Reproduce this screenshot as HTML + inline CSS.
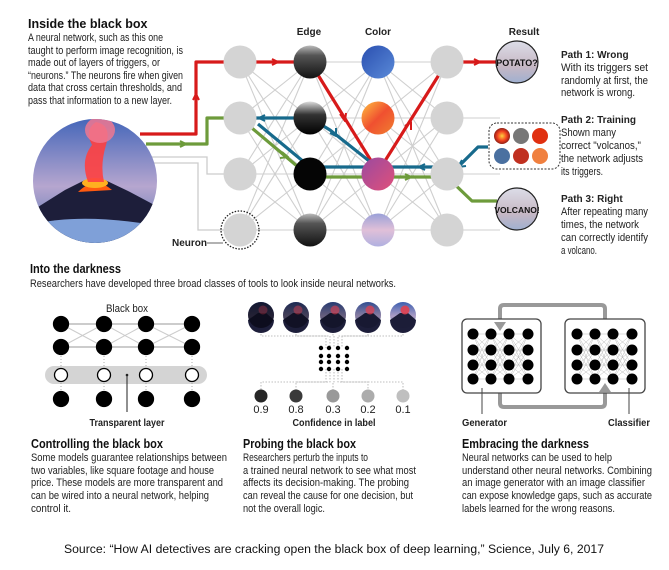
<!DOCTYPE html>
<html><head><meta charset="utf-8">
<style>
html,body{margin:0;padding:0;background:#fff;}
svg{display:block;font-family:"Liberation Sans",sans-serif;}
.h{font-weight:bold;font-size:12.5px;fill:#111;}
.t{font-size:11px;fill:#222;}
.lbl{font-weight:bold;font-size:10px;fill:#222;}
</style></head>
<body>
<svg id="fig" width="669" height="570" viewBox="0 0 669 570" xmlns="http://www.w3.org/2000/svg">
<defs>
<linearGradient id="sky" x1="0" y1="0" x2="0" y2="1">
<stop offset="0" stop-color="#3f63b8"/><stop offset="0.55" stop-color="#b6a6cf"/><stop offset="1" stop-color="#4a6fb0"/></linearGradient>
<linearGradient id="pale" x1="0" y1="0" x2="0" y2="1">
<stop offset="0" stop-color="#dcdde8"/><stop offset="0.6" stop-color="#c7b8c4"/><stop offset="1" stop-color="#9fb0d0"/></linearGradient>
<radialGradient id="lava" cx="0.5" cy="0.5" r="0.6"><stop offset="0" stop-color="#ffd040"/><stop offset="0.5" stop-color="#f04020"/><stop offset="1" stop-color="#601010"/></radialGradient>
<linearGradient id="gray1" x1="0" y1="0" x2="0" y2="1"><stop offset="0" stop-color="#bbb"/><stop offset="0.3" stop-color="#555"/><stop offset="1" stop-color="#111"/></linearGradient>
<linearGradient id="gray2" x1="0" y1="0" x2="0" y2="1"><stop offset="0" stop-color="#ddd"/><stop offset="0.4" stop-color="#333"/><stop offset="1" stop-color="#000"/></linearGradient>
<linearGradient id="cOrange" x1="0" y1="0" x2="1" y2="1"><stop offset="0" stop-color="#ffc040"/><stop offset="0.5" stop-color="#f05030"/><stop offset="1" stop-color="#f08030"/></linearGradient>
<linearGradient id="cBlue" x1="0" y1="0" x2="1" y2="1"><stop offset="0" stop-color="#2a4fb0"/><stop offset="1" stop-color="#5a8ad8"/></linearGradient>
<linearGradient id="cMag" x1="0" y1="0" x2="1" y2="1"><stop offset="0" stop-color="#9a4aa0"/><stop offset="1" stop-color="#e0507a"/></linearGradient>
<linearGradient id="cLav" x1="0" y1="0" x2="0" y2="1"><stop offset="0" stop-color="#9aa0d8"/><stop offset="0.5" stop-color="#e0c0d8"/><stop offset="1" stop-color="#b0b0e0"/></linearGradient>
<clipPath id="vclip"><circle cx="95" cy="181" r="62"/></clipPath>
</defs>

<text class="h" x="28" y="28" font-size="13">Inside the black box</text>
<g class="t">
<text x="28" y="41" textLength="135" lengthAdjust="spacingAndGlyphs">A neural network, such as this one</text>
<text x="28" y="54" textLength="155" lengthAdjust="spacingAndGlyphs">taught to perform image recognition, is</text>
<text x="28" y="66" textLength="132" lengthAdjust="spacingAndGlyphs">made out of layers of triggers, or</text>
<text x="28" y="79" textLength="155" lengthAdjust="spacingAndGlyphs">“neurons.” The neurons fire when given</text>
<text x="28" y="91" textLength="154" lengthAdjust="spacingAndGlyphs">data that cross certain thresholds, and</text>
<text x="28" y="104" textLength="144" lengthAdjust="spacingAndGlyphs">pass that information to a new layer.</text>
</g>
<text class="lbl" x="309" y="35" text-anchor="middle">Edge</text>
<text class="lbl" x="378" y="35" text-anchor="middle">Color</text>
<text class="lbl" x="524" y="35" text-anchor="middle">Result</text>

<g id="net"></g>

<g fill="none" stroke="#ccc" stroke-width="1.3">
<path d="M152,157 H207 V174 H240"/>
<path d="M150,163 H198 V230 H240"/>
</g>

<g fill="none" stroke="#d71a1a" stroke-width="3.2" stroke-linejoin="round">
<path d="M140,134 H196 V62 H240 H310 L378,172 L447,62 H497"/>
<path d="M193,100 l3,-6 l3,6 M272,59 l6,3 l-6,3 M340,114 l5,7 l1,-8 M405,126 l6,-4 l0,8 M474,59 l6,3 l-6,3" stroke-width="2"/>
</g>
<g fill="none" stroke="#6d9b3b" stroke-width="3.2" stroke-linejoin="round">
<path d="M146,144 H207 V118 H240 L310,177 H447 L472,201 H497"/>
<path d="M180,141 l6,3 l-6,3 M282,152 l6,5 l-8,1 M405,174 l6,3 l-6,3" stroke-width="2"/>
</g>
<g fill="none" stroke="#176a8c" stroke-width="3.2" stroke-linejoin="round">
<path d="M488,147 H478 L458,167 H447 H310 L258,124"/>
<path d="M378,168 L330,130 L310,118 H256"/>
<path d="M265,115 l-6,3 l6,3 M336,128 l0,8 l-6,-3 M425,164 l-6,3 l6,3 M462,160 l-4,7 l8,-1" stroke-width="2"/>
</g>

<g id="nodes"></g>

<circle cx="240" cy="230" r="19" fill="none" stroke="#222" stroke-width="1.3" stroke-dasharray="1.5,1.5"/>
<line x1="207" y1="243" x2="223" y2="243" stroke="#666" stroke-width="1"/>
<text class="lbl" x="172" y="246" font-size="10">Neuron</text>

<g clip-path="url(#vclip)">
<rect x="30" y="115" width="130" height="130" fill="url(#sky)"/>
<path d="M30,212 L65,190 L85,180 L105,180 L130,192 L160,208 V245 H30Z" fill="#1d1e3a"/>
<path d="M30,225 Q80,212 160,226 V245 H30Z" fill="#7fa0d8"/>
<path d="M78,192 Q95,175 112,190 Z" fill="#ff5a10"/>
<ellipse cx="95" cy="183" rx="13" ry="5" fill="#ffb020"/>
<path d="M88,182 Q80,160 92,145 Q84,130 96,122 Q112,125 106,145 Q100,165 104,182Z" fill="#ff4040" opacity="0.9"/>
<ellipse cx="100" cy="130" rx="15" ry="13" fill="#f07890" opacity="0.85"/>
</g>

<g>
<circle cx="517" cy="62" r="21" fill="url(#pale)" stroke="#222" stroke-width="1.2"/>
<text x="517" y="66" font-size="9" font-weight="bold" text-anchor="middle" fill="#111">POTATO?</text>
</g>
<g>
<circle cx="517" cy="209" r="21" fill="url(#pale)" stroke="#222" stroke-width="1.2"/>
<text x="517" y="213" font-size="8.5" font-weight="bold" text-anchor="middle" fill="#111">VOLCANO!</text>
</g>
<g>
<rect x="489" y="123" width="71" height="46" rx="8" fill="#fff" stroke="#333" stroke-width="1" stroke-dasharray="2,1.5"/>
<circle cx="502" cy="136" r="8" fill="url(#lava)"/>
<circle cx="521" cy="136" r="8" fill="#777"/>
<circle cx="540" cy="136" r="8" fill="#e03010"/>
<circle cx="502" cy="156" r="8" fill="#4a70a0"/>
<circle cx="521" cy="156" r="8" fill="#c03020"/>
<circle cx="540" cy="156" r="8" fill="#f08040"/>
</g>

<g>
<text class="lbl" x="561" y="58" font-size="10">Path 1: Wrong</text>
<text class="t" x="561" y="71" textLength="87" lengthAdjust="spacingAndGlyphs">With its triggers set</text>
<text class="t" x="561" y="84" textLength="87" lengthAdjust="spacingAndGlyphs">randomly at first, the</text>
<text class="t" x="561" y="96" textLength="74" lengthAdjust="spacingAndGlyphs">network is wrong.</text>
<text class="lbl" x="561" y="123" font-size="10">Path 2: Training</text>
<text class="t" x="561" y="136" textLength="55" lengthAdjust="spacingAndGlyphs">Shown many</text>
<text class="t" x="561" y="149" textLength="80" lengthAdjust="spacingAndGlyphs">correct "volcanos,"</text>
<text class="t" x="561" y="162" textLength="82" lengthAdjust="spacingAndGlyphs">the network adjusts</text>
<text class="t" x="561" y="175" textLength="42" lengthAdjust="spacingAndGlyphs">its triggers.</text>
<text class="lbl" x="561" y="202" font-size="10">Path 3: Right</text>
<text class="t" x="561" y="215" textLength="87" lengthAdjust="spacingAndGlyphs">After repeating many</text>
<text class="t" x="561" y="228" textLength="78" lengthAdjust="spacingAndGlyphs">times, the network</text>
<text class="t" x="561" y="241" textLength="87" lengthAdjust="spacingAndGlyphs">can correctly identify</text>
<text class="t" x="561" y="254" textLength="36" lengthAdjust="spacingAndGlyphs">a volcano.</text>
</g>

<text class="h" x="30" y="273" textLength="91" lengthAdjust="spacingAndGlyphs">Into the darkness</text>
<text class="t" x="30" y="287" textLength="366" lengthAdjust="spacingAndGlyphs">Researchers have developed three broad classes of tools to look inside neural networks.</text>

<g id="bb">
<rect x="45" y="366" width="162" height="18" rx="9" fill="#d4d4d4"/>
</g>
<text class="t" x="127" y="312" text-anchor="middle" textLength="42" lengthAdjust="spacingAndGlyphs">Black box</text>
<line x1="127" y1="375" x2="127" y2="412" stroke="#222" stroke-width="1"/>
<circle cx="127" cy="375" r="1.3" fill="#222"/>
<text class="lbl" x="127" y="426" text-anchor="middle" textLength="75" lengthAdjust="spacingAndGlyphs">Transparent layer</text>

<g id="probe"></g>
<text class="lbl" x="334" y="426" text-anchor="middle" textLength="83" lengthAdjust="spacingAndGlyphs">Confidence in label</text>

<g fill="none" stroke="#999" stroke-width="4" stroke-linejoin="round">
<path d="M605,319 V309 Q605,305 601,305 H504 Q500,305 500,309 V326"/>
<path d="M500,393 V403 Q500,407 504,407 H601 Q605,407 605,403 V388"/>
</g>
<rect x="462" y="319" width="79" height="74" rx="5" fill="#fff" stroke="#444" stroke-width="1.3"/>
<rect x="565" y="319" width="80" height="74" rx="5" fill="#fff" stroke="#444" stroke-width="1.3"/>
<path d="M494,322 L500,331 L506,322Z M599,392 L605,383 L611,392Z" fill="#999"/>
<g id="gen"></g>
<g id="cls"></g>
<line x1="482" y1="388" x2="482" y2="414" stroke="#444" stroke-width="1"/>
<line x1="629" y1="388" x2="629" y2="414" stroke="#444" stroke-width="1"/>
<text class="lbl" x="462" y="426" textLength="45" lengthAdjust="spacingAndGlyphs">Generator</text>
<text class="lbl" x="650" y="426" text-anchor="end" textLength="42" lengthAdjust="spacingAndGlyphs">Classifier</text>

<g>
<text class="h" x="31" y="448" textLength="132" lengthAdjust="spacingAndGlyphs">Controlling the black box</text>
<text class="t" x="31" y="461" textLength="196" lengthAdjust="spacingAndGlyphs">Some models guarantee relationships between</text>
<text class="t" x="31" y="474" textLength="183" lengthAdjust="spacingAndGlyphs">two variables, like square footage and house</text>
<text class="t" x="31" y="486" textLength="192" lengthAdjust="spacingAndGlyphs">price. These models are more transparent and</text>
<text class="t" x="31" y="499" textLength="178" lengthAdjust="spacingAndGlyphs">can be wired into a neural network, helping</text>
<text class="t" x="31" y="512" textLength="40" lengthAdjust="spacingAndGlyphs">control it.</text>
</g>
<g>
<text class="h" x="243" y="448" textLength="113" lengthAdjust="spacingAndGlyphs">Probing the black box</text>
<text class="t" x="243" y="461" textLength="125" lengthAdjust="spacingAndGlyphs">Researchers perturb the inputs to</text>
<text class="t" x="243" y="474" textLength="173" lengthAdjust="spacingAndGlyphs">a trained neural network to see what most</text>
<text class="t" x="243" y="486" textLength="166" lengthAdjust="spacingAndGlyphs">affects its decision-making. The probing</text>
<text class="t" x="243" y="499" textLength="170" lengthAdjust="spacingAndGlyphs">can reveal the cause for one decision, but</text>
<text class="t" x="243" y="512" textLength="82" lengthAdjust="spacingAndGlyphs">not the overall logic.</text>
</g>
<g>
<text class="h" x="462" y="448" textLength="127" lengthAdjust="spacingAndGlyphs">Embracing the darkness</text>
<text class="t" x="462" y="461" textLength="150" lengthAdjust="spacingAndGlyphs">Neural networks can be used to help</text>
<text class="t" x="462" y="474" textLength="190" lengthAdjust="spacingAndGlyphs">understand other neural networks. Combining</text>
<text class="t" x="462" y="486" textLength="183" lengthAdjust="spacingAndGlyphs">an image generator with an image classifier</text>
<text class="t" x="462" y="499" textLength="190" lengthAdjust="spacingAndGlyphs">can expose knowledge gaps, such as accurate</text>
<text class="t" x="462" y="512" textLength="153" lengthAdjust="spacingAndGlyphs">labels learned for the wrong reasons.</text>
</g>
<text x="334" y="553" text-anchor="middle" font-size="11.5" fill="#111" textLength="540" lengthAdjust="spacingAndGlyphs">Source: “How AI detectives are cracking open the black box of deep learning,” Science, July 6, 2017</text>
</svg>
<script>
var ns="http://www.w3.org/2000/svg";
function mk(tag,attrs,parent){var e=document.createElementNS(ns,tag);for(var k in attrs)e.setAttribute(k,attrs[k]);parent.appendChild(e);return e;}
var layerX=[240,310,378,447];
var rowY=[62,118,174,230];
var nodeFills=[["#d4d4d4","#d4d4d4","#d4d4d4","#d4d4d4"],["url(#gray1)","url(#gray2)","#050505","url(#gray1)"],["url(#cBlue)","url(#cOrange)","url(#cMag)","url(#cLav)"],["#d4d4d4","#d4d4d4","#d4d4d4","#d4d4d4"]];
var confValues=[0.9,0.8,0.3,0.2,0.1];
var confLabels=["0.9","0.8","0.3","0.2","0.1"];
var net=document.getElementById('net');
for(var l=0;l<3;l++)for(var i=0;i<4;i++)for(var j=0;j<4;j++){
 var ln=mk('line',{x1:layerX[l],y1:rowY[i],x2:layerX[l+1],y2:rowY[j],stroke:'#cfcfcf','stroke-width':1.1},net);
 
 
}
for(var j=0;j<4;j++){var ln2=mk('line',{x1:447,y1:rowY[j],x2:500,y2:rowY[j],stroke:'#cfcfcf','stroke-width':1.1},net);
 
 }
var nodes=document.getElementById('nodes');
for(var l=0;l<4;l++)for(var i=0;i<4;i++){
 var c=mk('circle',{cx:layerX[l],cy:rowY[i],r:16.5,fill:nodeFills[l][i]},nodes);
 
 
}
var bb=document.getElementById('bb');
var bx=[61,104,146,192], by=[324,347,375,399];
for(var i=0;i<3;i++){
 [[324,347],[347,324]].forEach(function(p){mk('line',{x1:bx[i],y1:p[0],x2:bx[i+1],y2:p[1],stroke:'#ccc','stroke-width':1},bb);});
}
[324,347].forEach(function(y){mk('line',{x1:61,y1:y,x2:192,y2:y,stroke:'#ccc','stroke-width':2},bb);});
for(var i=0;i<4;i++){mk('line',{x1:bx[i],y1:347,x2:bx[i],y2:399,stroke:'#999','stroke-width':0.8,'stroke-dasharray':'1,2'},bb);}
for(var i=0;i<4;i++)for(var r=0;r<4;r++){
 var white=(r==2);
 var n=mk('circle',{cx:bx[i],cy:by[r],r:white?6.5:7.5,fill:white?'#fff':'#000',stroke:'#000','stroke-width':1.3},bb);
 
 
}
var probe=document.getElementById('probe');
var px=[261,296,333,368,403];
var gridX=[321,329,338,347], gridY=[348,356,362,369];
for(var k=0;k<5;k++){
 mk('path',{d:'M'+px[k]+',328 V336 H'+(326+k*4)+' V348',fill:'none',stroke:'#aaa','stroke-width':0.8,'stroke-dasharray':'1.5,1.5'},probe);
 mk('path',{d:'M'+(326+k*4)+',369 V382 H'+px[k]+' V390',fill:'none',stroke:'#aaa','stroke-width':0.8,'stroke-dasharray':'1.5,1.5'},probe);
}
for(var k=0;k<5;k++){
 var g=mk('circle',{cx:px[k],cy:315,r:13,fill:'url(#sky)'},probe);
 
 
 mk('path',{d:'M'+(px[k]-13)+',320 L'+(px[k]-3)+',313 L'+(px[k]+5)+',313 L'+(px[k]+13)+',320 A13,13 0 0 1 '+(px[k]-13)+',320Z',fill:'#1d1e3a'},probe);
 mk('circle',{cx:px[k],cy:315,r:13,fill:'#0a0a1a',opacity:(0.85-k*0.2).toFixed(2)},probe);
 mk('circle',{cx:px[k]+2,cy:310,r:4.5,fill:'#e04050',opacity:(0.3+k*0.15).toFixed(2)},probe);
}
for(var a=0;a<4;a++)for(var b=0;b<4;b++){mk('circle',{cx:gridX[a],cy:gridY[b],r:2.2,fill:'#000'},probe);}
function grayFor(v){var g=Math.round(20+(1-v)*190);return 'rgb('+g+','+g+','+g+')';}
for(var k=0;k<confValues.length;k++){
 var d=mk('circle',{cx:px[k],cy:396,r:6.5,fill:grayFor(confValues[k])},probe);
 
 
 var t=mk('text',{x:px[k],y:413,'text-anchor':'middle','font-size':'11',fill:'#222'},probe);
 t.textContent=confLabels[k];
 
 
}
function miniNet(id,xs){
 var g=document.getElementById(id);var ys=[334,350,365,379];
 for(var i=0;i<3;i++)for(var a=0;a<4;a++)for(var b=0;b<4;b++)mk('line',{x1:xs[i],y1:ys[a],x2:xs[i+1],y2:ys[b],stroke:'#bbb','stroke-width':0.5},g);
 for(var i=0;i<4;i++)for(var a=0;a<4;a++){var c=mk('circle',{cx:xs[i],cy:ys[a],r:5.5,fill:'#000'},g);
  
  }
}
miniNet('gen',[473,491,509,528]);miniNet('cls',[577,595,613,632]);
</script>
</body></html>
